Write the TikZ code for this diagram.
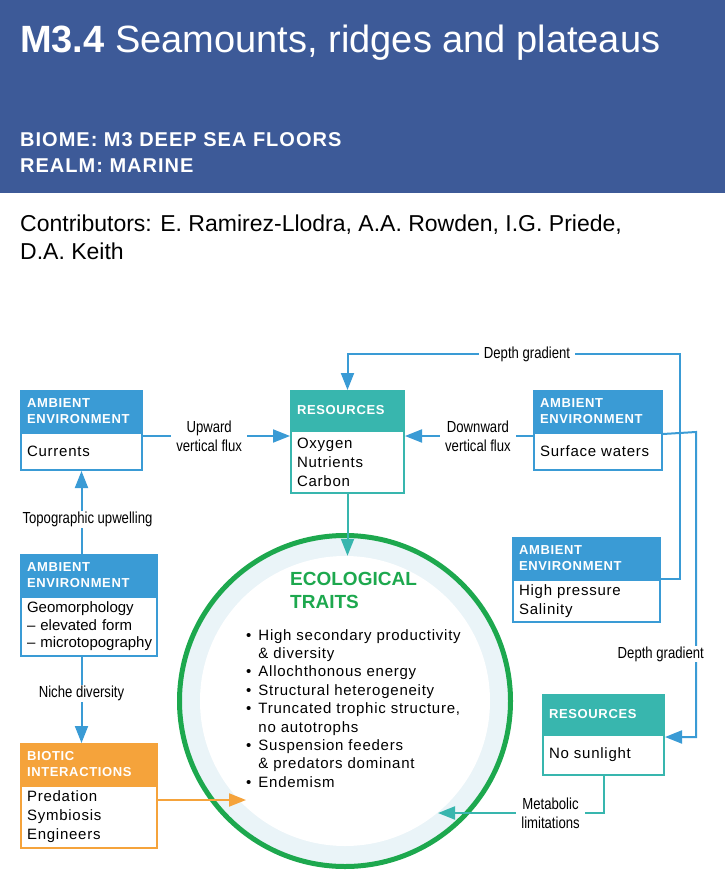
\documentclass[tikz,border=0pt]{standalone}
\usepackage{fontspec}
\setmainfont{Liberation Sans}
\newfontfamily\condfont[FakeStretch=0.82]{Liberation Sans}
\newfontfamily\trackfont[LetterSpace=5]{Liberation Sans}
\usepackage{tikz}
\usetikzlibrary{arrows.meta,positioning}

\definecolor{bandblue}{HTML}{3D5A98}
\definecolor{ambblue}{HTML}{3A9BD5}
\definecolor{resteal}{HTML}{38B6AE}
\definecolor{bioorange}{HTML}{F5A33B}
\definecolor{ecogreen}{HTML}{1DA84E}
\definecolor{ringblue}{HTML}{EAF4F8}

\hyphenpenalty=10000
\exhyphenpenalty=10000

\begin{document}
\begin{tikzpicture}[
    x=1pt, y=-1pt,
    head/.style={rectangle, draw=#1, fill=#1, line width=2pt, text=white, align=left, anchor=north west,
        inner xsep=6pt, inner ysep=0pt, font=\trackfont\fontsize{13}{16}\selectfont\bfseries},
    body/.style={rectangle, draw=#1, fill=white, line width=2pt, align=left,
        inner xsep=6pt, inner ysep=0pt, font=\trackfont\fontsize{15}{19}\selectfont},
    flow/.style={draw=#1, line width=2pt, -{Triangle[length=17pt,width=13pt]}},
    lbl/.style={fill=white, align=center, inner xsep=5pt, inner ysep=1pt, font=\condfont\fontsize{16}{19}\selectfont},
]
    \useasboundingbox (0,0) rectangle (725,890);

    % Title band
    \fill[bandblue] (0,0) rectangle (725,193);
    \node[anchor=base west, inner sep=0pt, text=white, font=\fontsize{38}{40}\selectfont] (title) at (20,53)
        {\textbf{M3.4} Seamounts, ridges and plateaus};
    \node[anchor=base west, inner sep=0pt, text=white, font=\trackfont\fontsize{20}{24}\selectfont\bfseries] (biome) at (20,147)
        {BIOME: M3 DEEP SEA FLOORS};
    \node[anchor=base west, inner sep=0pt, text=white, font=\trackfont\fontsize{20}{24}\selectfont\bfseries] (realm) at (20,173)
        {REALM: MARINE};
    \node[anchor=base west, inner sep=0pt, font=\fontsize{23}{28}\selectfont] (contrib) at (20,232)
        {Contributors: E. Ramirez-Llodra, A.A. Rowden, I.G. Priede,};
    \node[anchor=base west, inner sep=0pt, font=\fontsize{23}{28}\selectfont] (contrib2) at (20,260)
        {D.A. Keith};

    % Ecological traits
    \node[circle, draw=ecogreen, line width=5pt, fill=ringblue, minimum size=331pt, inner sep=0pt] (eco) at (345,701) {};
    \node[circle, fill=white, minimum size=290pt, inner sep=0pt] (eco-in) at (eco) {};
    \node[anchor=base west, inner sep=0pt, text=ecogreen, font=\fontsize{19}{23}\selectfont\bfseries] (eco-title) at (290,585) {ECOLOGICAL};
    \node[anchor=base west, inner sep=0pt, text=ecogreen, font=\fontsize{19}{23}\selectfont\bfseries] (eco-title2) at (290,608) {TRAITS};
    \node[anchor=base west, inner sep=0pt, font=\trackfont\fontsize{15}{18.4}\selectfont] (eco-list) at (246,640) {%
        \begin{tabular}[t]{@{}l@{\hspace{7pt}}l@{}}
        \textbullet & High secondary productivity\\
                    & \& diversity\\
        \textbullet & Allochthonous energy\\
        \textbullet & Structural heterogeneity\\
        \textbullet & Truncated trophic structure,\\
                    & no autotrophs\\
        \textbullet & Suspension feeders\\
                    & \& predators dominant\\
        \textbullet & Endemism
        \end{tabular}};

    % Ambient environment: currents
    \node[head=ambblue, text width=109pt, minimum height=40pt] (curr-head) at (20,390) {AMBIENT\\ENVIRONMENT};
    \node[body=ambblue, text width=109pt, minimum height=37pt, below=0pt of curr-head] (curr-body) {Currents};

    % Resources
    \node[head=resteal, text width=101pt, minimum height=38pt] (res-head) at (290,390) {RESOURCES};
    \node[body=resteal, text width=101pt, minimum height=62pt, below=0pt of res-head] (res-body) {Oxygen\\Nutrients\\Carbon};

    % Ambient environment: surface waters
    \node[head=ambblue, text width=116pt, minimum height=40pt] (surf-head) at (533,390) {AMBIENT\\ENVIRONMENT};
    \node[body=ambblue, text width=116pt, minimum height=37pt, below=0pt of surf-head] (surf-body) {Surface waters};

    % Ambient environment: high pressure
    \node[head=ambblue, text width=135pt, minimum height=40pt] (hp-head) at (512,537) {AMBIENT\\ENVIRONMENT};
    \node[body=ambblue, text width=135pt, minimum height=42pt, below=0pt of hp-head] (hp-body) {High pressure\\Salinity};

    % Ambient environment: geomorphology
    \node[head=ambblue, text width=124pt, minimum height=40pt] (geo-head) at (20,554) {AMBIENT\\ENVIRONMENT};
    \node[body=ambblue, text width=124pt, minimum height=59pt, below=0pt of geo-head,
        font=\fontsize{15}{17.5}\selectfont] (geo-body) {Geomorphology\\\mbox{– elevated form}\\\mbox{– microtopography}};

    % Biotic interactions
    \node[head=bioorange, text width=124pt, minimum height=40pt] (bio-head) at (20,743) {BIOTIC\\INTERACTIONS};
    \node[body=bioorange, text width=124pt, minimum height=62pt, below=0pt of bio-head] (bio-body) {Predation\\Symbiosis\\Engineers};

    % Resources: no sunlight
    \node[head=resteal, text width=109pt, minimum height=38pt] (ns-head) at (542,694) {RESOURCES};
    \node[body=resteal, text width=109pt, minimum height=40pt, below=0pt of ns-head] (ns-body) {No sunlight};

    % Connectors
    \draw[flow=ambblue] ([yshift=-4pt]curr-body.north east) -- node[lbl, pos=0.45] {Upward\\vertical flux}
        ([yshift=-4pt]curr-body.north east -| res-body.west);
    \draw[flow=ambblue] ([yshift=-4pt]surf-body.north west) -- node[lbl, pos=0.43] {Downward\\vertical flux}
        ([yshift=-4pt]surf-body.north west -| res-body.east);

    \coordinate (dg-top) at (680,354);
    \draw[flow=ambblue] (hp-body.north east) -| (dg-top) -| (res-head.north);
    \node[lbl] (dg-top-lbl) at (527,354) {Depth gradient};

    \coordinate (dg-right) at (696,432);
    \draw[flow=ambblue] ([yshift=-2pt]surf-body.north east) -- (dg-right) |- ([yshift=-3pt]ns-body.north east);
    \node[lbl, anchor=east] (dg-right-lbl) at (709,654) {Depth gradient};

    \draw[flow=ambblue] (geo-head.north -| curr-body.south) -- node[lbl, pos=0.42, xshift=6pt] {Topographic upwelling}
        (curr-body.south);
    \draw[flow=ambblue] (geo-body.south -| curr-body.south) -- node[lbl, pos=0.42] {Niche diversity}
        (bio-head.north -| curr-body.south);

    \coordinate (bio-in) at (246,800);
    \draw[flow=bioorange] (bio-body.east |- bio-in) -- (bio-in);

    \draw[flow=resteal] (res-body.south) -- (res-body.south |- eco-in.north);

    \coordinate (met-in) at (438,813);
    \draw[flow=resteal] (ns-body.south) |- node[lbl, pos=0.66] {Metabolic\\limitations} (met-in);

\end{tikzpicture}
\end{document}
